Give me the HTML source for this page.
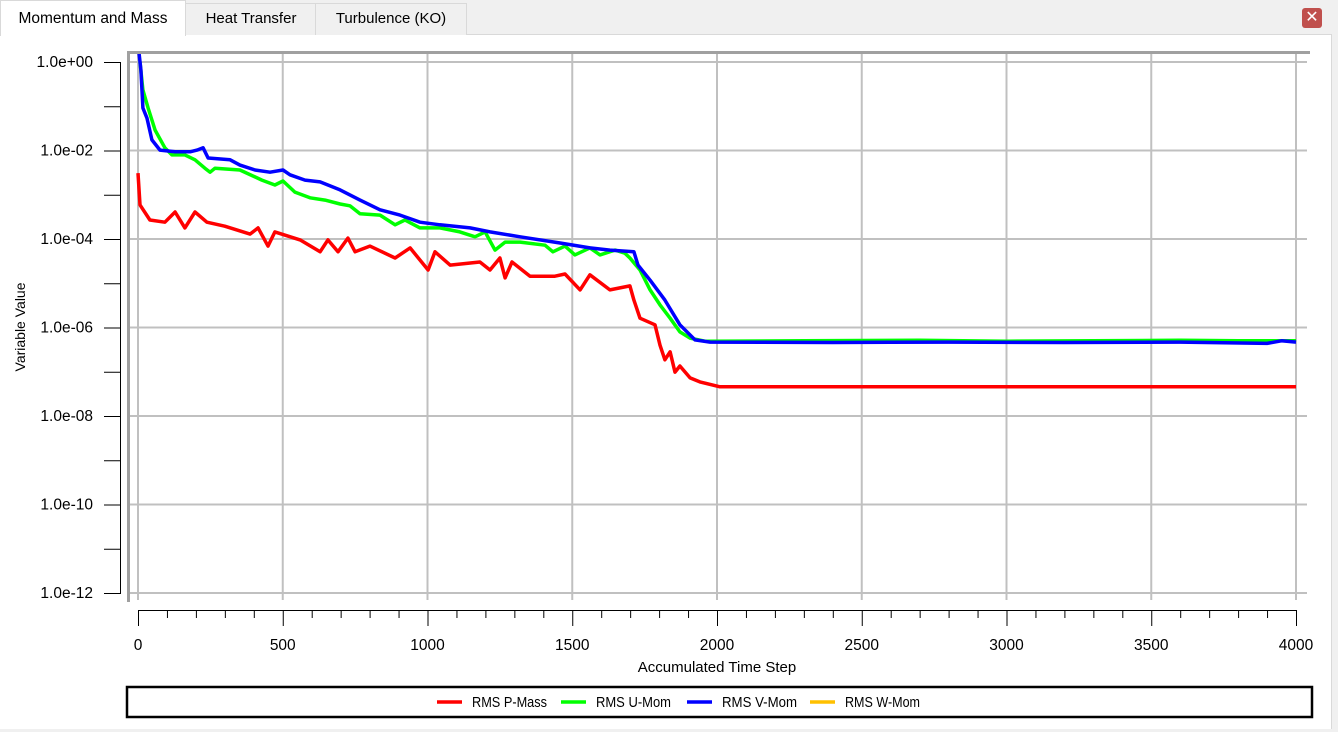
<!DOCTYPE html>
<html><head><meta charset="utf-8"><style>
body{margin:0;width:1338px;height:732px;background:#f0f0f0;font-family:"Liberation Sans","DejaVu Sans",sans-serif;overflow:hidden;position:relative}
.tab{position:absolute;top:3px;height:31px;border:1px solid #d9d9d9;border-bottom:none;background:#f0f0f0;font-size:15px;line-height:30px;text-align:center;color:#000}
#panel{position:absolute;left:0;top:34px;width:1331px;height:694px;background:#fff;border-right:1px solid #d9d9d9;border-top:1px solid #d9d9d9}
svg text{font-family:"Liberation Sans","DejaVu Sans",sans-serif}
</style></head><body>
<div id="panel"></div>
<div class="tab" style="left:0;top:0;width:184px;height:35px;background:#fff;line-height:36px;font-size:15.5px">Momentum and Mass</div>
<div class="tab" style="left:185px;width:130px">Heat Transfer</div>
<div class="tab" style="left:315px;width:150px">Turbulence (KO)</div>
<div style="position:absolute;left:1302px;top:8px;width:20px;height:20px;background:#c0504d;border-radius:3px;color:#fff;font-size:16px;line-height:20px;text-align:center;font-weight:bold">✕</div>
<svg id="chart" width="1338" height="732" style="position:absolute;left:0;top:0"></svg>
<script>
const xTicks=[0,500,1000,1500,2000,2500,3000,3500,4000];
const yTicks=[0,-2,-4,-6,-8,-10,-12];
const yLabels=["1.0e+00","1.0e-02","1.0e-04","1.0e-06","1.0e-08","1.0e-10","1.0e-12"];
const redSteps=[0,7,41,93,128,162,197,238,300,387,415,449,473,560,629,656,691,725,750,801,888,940,1002,1026,1078,1181,1216,1250,1268,1292,1354,1440,1475,1527,1561,1630,1699,1713,1734,1786,1803,1820,1838,1855,1872,1907,1941,2010,4000];
const redLog=[-2.51,-3.23,-3.57,-3.62,-3.39,-3.75,-3.39,-3.62,-3.71,-3.89,-3.75,-4.16,-3.84,-4.02,-4.29,-4.02,-4.29,-3.98,-4.29,-4.16,-4.43,-4.2,-4.7,-4.29,-4.59,-4.52,-4.7,-4.43,-4.88,-4.52,-4.84,-4.84,-4.79,-5.15,-4.81,-5.15,-5.06,-5.38,-5.79,-5.94,-6.4,-6.73,-6.55,-7.01,-6.87,-7.14,-7.23,-7.34,-7.34];
const greenSteps=[7,17,35,59,93,117,162,197,231,249,266,352,428,473,501,542,594,646,698,732,767,836,888,922,974,1043,1112,1164,1199,1233,1268,1320,1406,1433,1475,1509,1561,1596,1648,1682,1699,1734,1769,1803,1838,1872,1907,1959,2300,2700,3000,3300,3600,3800,4000];
const greenLog=[0,-0.63,-1.04,-1.54,-1.94,-2.1,-2.1,-2.21,-2.4,-2.49,-2.4,-2.44,-2.67,-2.78,-2.69,-2.94,-3.07,-3.12,-3.21,-3.25,-3.43,-3.46,-3.68,-3.57,-3.75,-3.75,-3.84,-3.95,-3.84,-4.25,-4.07,-4.07,-4.14,-4.29,-4.16,-4.36,-4.2,-4.36,-4.25,-4.32,-4.43,-4.7,-5.15,-5.49,-5.79,-6.1,-6.24,-6.31,-6.3,-6.29,-6.31,-6.3,-6.29,-6.3,-6.3];
const blueSteps=[3,10,17,31,48,76,128,180,204,225,242,318,352,404,456,501,525,577,629,698,767,836,905,974,1043,1147,1216,1320,1458,1561,1630,1713,1727,1769,1820,1872,1924,1976,2400,2800,3200,3600,3900,3950,4000];
const blueLog=[0.23,-0.18,-1.04,-1.27,-1.76,-1.99,-2.03,-2.03,-1.99,-1.94,-2.17,-2.21,-2.33,-2.44,-2.49,-2.44,-2.55,-2.67,-2.71,-2.89,-3.12,-3.34,-3.46,-3.62,-3.68,-3.75,-3.84,-3.95,-4.09,-4.2,-4.25,-4.29,-4.59,-4.93,-5.38,-5.94,-6.28,-6.33,-6.34,-6.33,-6.34,-6.33,-6.36,-6.3,-6.33];
const legendNames=["RMS P-Mass","RMS U-Mom","RMS V-Mom","RMS W-Mom"];
const legendColors=["#ff0000","#00ff00","#0000ff","#ffc000"];

const NS="http://www.w3.org/2000/svg";
const svg=document.getElementById('chart');
const X=s=>138+s*(1296-138)/4000;
const Y=l=>62-l*(593-62)/12;
function mk(tag,attrs,parent){const e=document.createElementNS(NS,tag);for(const k in attrs)e.setAttribute(k,attrs[k]);(parent||svg).appendChild(e);return e;}

let f=mk('path',{d:'M128.5,602 V52.5 H1310',stroke:'#a0a0a0','stroke-width':3,fill:'none'});


yTicks.forEach(t=>{
  const g=mk('line',{x1:130,x2:1307,y1:Y(t),y2:Y(t),stroke:'#c0c0c0','stroke-width':2});
  
  
});
xTicks.forEach(t=>{
  const g=mk('line',{x1:X(t),x2:X(t),y1:54,y2:600,stroke:'#c0c0c0','stroke-width':2});
  
  
});
let ya=mk('line',{x1:120.5,x2:120.5,y1:Y(0),y2:Y(-12)+0.5,stroke:'#000','stroke-width':1});


for(let e=0;e>=-12;e--){
  const tk=mk('line',{x1:104,x2:121,y1:Y(e)+0.5,y2:Y(e)+0.5,stroke:'#000','stroke-width':1});
  
  
}
yTicks.forEach((t,i)=>{
  const tx=mk('text',{x:93,y:Y(t)+5,'text-anchor':'end','font-size':15.5,fill:'#000'});
  tx.textContent=yLabels[i];
  
  
});
let yt=mk('text',{x:25,y:327,'text-anchor':'middle','font-size':14,transform:'rotate(-90 25 327)'});
yt.textContent='Variable Value';


let xa=mk('line',{x1:X(0),x2:X(4000),y1:610.5,y2:610.5,stroke:'#000','stroke-width':1});


for(let s=0;s<=4000;s+=100){
  const major=s%500===0;
  const tk=mk('line',{x1:X(s)+0.5,x2:X(s)+0.5,y1:610,y2:major?626:618,stroke:'#000','stroke-width':1});
  
  
}
xTicks.forEach(t=>{
  const tx=mk('text',{x:X(t),y:650,'text-anchor':'middle','font-size':15.5});
  tx.textContent=t;
  
  
});
let xt=mk('text',{x:717,y:672,'text-anchor':'middle','font-size':15});
xt.textContent='Accumulated Time Step';


const defs=mk('defs',{});
const cp=mk('clipPath',{id:'pc'},defs);
mk('rect',{x:130,y:54,width:1180,height:550},cp);
function series(steps,vals,color,name){
  const d=steps.map((s,i)=>(i?'L':'M')+X(s).toFixed(1)+','+Y(vals[i]).toFixed(1)).join(' ');
  const p=mk('path',{d:d,stroke:color,'stroke-width':3.5,fill:'none','stroke-linejoin':'round','clip-path':'url(#pc)'});
  
  
}
series(greenSteps,greenLog,'#00ff00','series-rms-u-mom');
series(blueSteps,blueLog,'#0000ff','series-rms-v-mom');
series(redSteps,redLog,'#ff0000','series-rms-p-mass');
let lb=mk('rect',{x:127,y:687,width:1185,height:30,fill:'#fff',stroke:'#000','stroke-width':2.5});


const lx=[437,561,687,810];
legendNames.forEach((n,i)=>{
  const g=mk('g',{});
  
  
  mk('line',{x1:lx[i],x2:lx[i]+25,y1:702,y2:702,stroke:legendColors[i],'stroke-width':3.5},g);
  const t=mk('text',{x:lx[i]+35,y:707,'font-size':14.5,textLength:75,lengthAdjust:'spacingAndGlyphs'},g);
  t.textContent=n;
});
</script>
</body></html>
